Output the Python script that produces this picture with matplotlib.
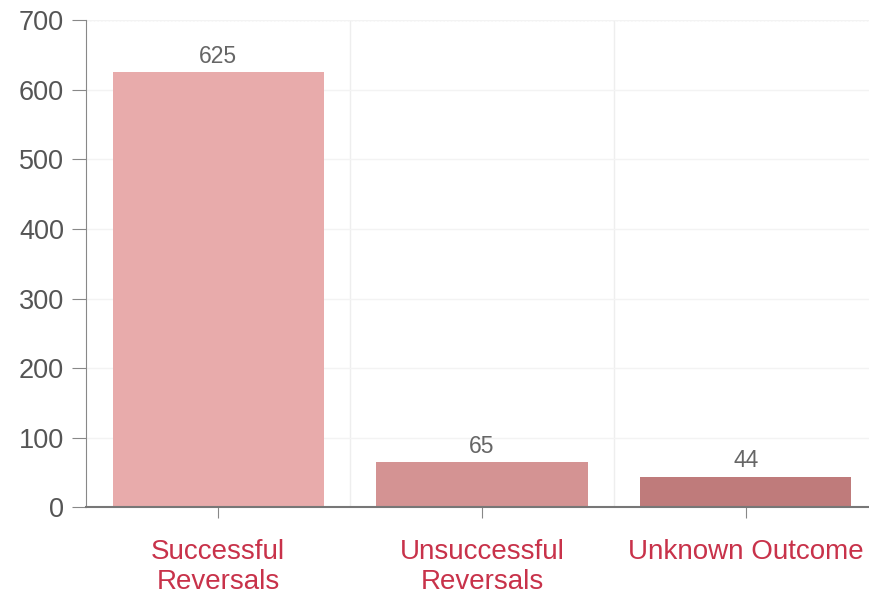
import matplotlib
matplotlib.use("Agg")
import matplotlib.pyplot as plt

categories = ["Successful\nReversals", "Unsuccessful\nReversals", "Unknown Outcome"]
values = [625, 65, 44]
colors = ["#e8abab", "#d49393", "#bf7b7b"]
yticks = [0, 100, 200, 300, 400, 500, 600, 700]

plt.rcParams['font.family'] = ['Liberation Sans', 'DejaVu Sans']

fig = plt.figure(figsize=(8.7, 5.94), dpi=100)
ax = fig.add_axes([0.099, 0.146, 0.91, 0.82])

x = list(range(len(categories)))
bars = ax.bar(x, values, width=0.8, color=colors, zorder=2)
for xi, v in zip(x, values):
    ax.annotate(str(v), (xi, v), xytext=(0, 3), textcoords='offset points',
                ha='center', va='bottom', fontsize=16.5, color='#666666')

ax.set_xlim(-0.5, 2.5)
ax.set_ylim(0, 700)
ax.set_yticks(yticks)
ax.set_xticks(x)
ax.set_xticklabels(categories, fontsize=20, color='#c8324a', linespacing=1.2)
ax.tick_params(axis='y', labelsize=19.5, labelcolor='#555555', color='#888888', length=10, direction='out', pad=6)
ax.tick_params(axis='x', color='#888888', length=8, pad=15)

ax.set_xticks([0.5, 1.5], minor=True)
ax.grid(axis='x', which='minor', color='#eeeeee', lw=1, zorder=0)
ax.grid(axis='y', which='major', color='#f3f3f3', lw=1, zorder=0)
ax.tick_params(axis='x', which='minor', length=0)

for s in ['top', 'right']:
    ax.spines[s].set_visible(False)
ax.axhline(700, color='#dddddd', lw=1, ls=':', zorder=1)
ax.spines['left'].set_color('#888888')
ax.spines['bottom'].set_color('#777777')
ax.spines['bottom'].set_linewidth(1.5)

fig.savefig("out.png", dpi=100)
